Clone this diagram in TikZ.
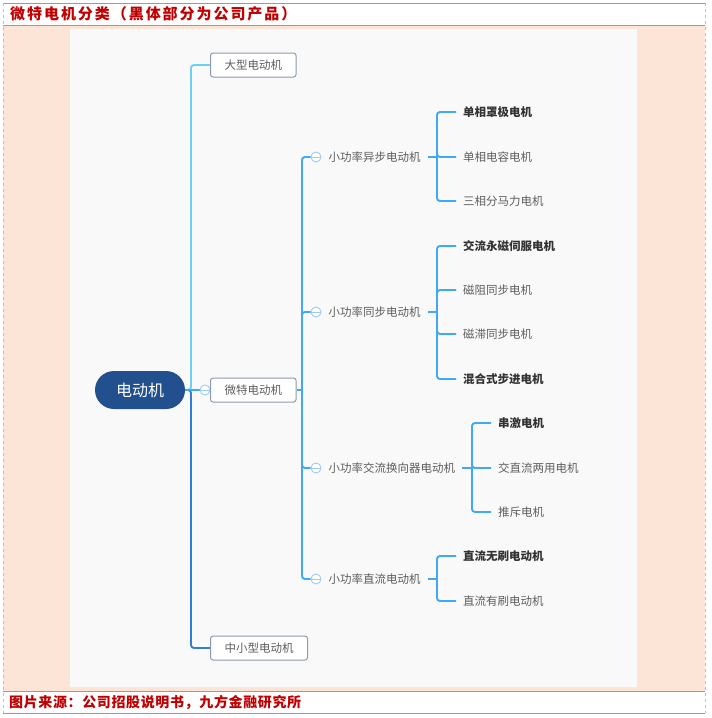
\documentclass[tikz,border=0pt]{standalone}
\usepackage{fontspec}
\setmainfont{Noto Sans CJK SC}
\newfontfamily\spacedtitle{Noto Sans CJK SC}[LetterSpace=13]
\newfontfamily\spacedsource{Noto Sans CJK SC}[LetterSpace=4.5]
\usetikzlibrary{positioning,calc}
\usepackage{xcolor}

\definecolor{peach}{HTML}{FCE4D6}
\definecolor{rule}{HTML}{E9834E}
\definecolor{titlered}{HTML}{C00000}
\definecolor{panel}{HTML}{F9F9FA}
\definecolor{rootblue}{HTML}{22508F}
\definecolor{lightline}{HTML}{6CD0F5}
\definecolor{midline}{HTML}{3FA9F5}
\definecolor{darkline}{HTML}{2E7FD6}
\definecolor{boxgray}{HTML}{8F9BAB}
\definecolor{labelgray}{HTML}{5E5E5E}
\definecolor{togglecol}{HTML}{9DCBF2}

\tikzset{
    rootnode/.style={fill=rootblue, rounded corners=19pt, minimum width=90pt, minimum height=38pt,
        text=white, font=\fontsize{16}{18}\selectfont},
    topbox/.style={draw=boxgray, fill=white, rounded corners=2.5pt, line width=1pt, minimum height=24pt,
        inner xsep=14pt, anchor=west, text=labelgray, font=\fontsize{11.5}{13}\selectfont},
    midlabel/.style={inner sep=1pt, text=labelgray, font=\fontsize{11.5}{13}\selectfont},
    leaf/.style={anchor=west, inner sep=1pt, text=labelgray, font=\fontsize{11.5}{13}\selectfont},
    leafbold/.style={leaf, text=black!80, font=\fontsize{11.5}{13}\selectfont\bfseries},
    branch/.style={midline, line width=1.9pt, rounded corners=3pt},
    toggle/.style={circle, draw=togglecol, fill=white, line width=0.9pt, minimum size=10pt, inner sep=0pt,
        path picture={\draw[togglecol, line width=0.9pt] (path picture bounding box.west) -- (path picture bounding box.east);}}
}

\begin{document}
\begin{tikzpicture}[x=1pt, y=-1pt]
    \useasboundingbox (0,0) rectangle (712,718);

    % frame, title and source rows
    \fill[peach] (3,25) rectangle (705,691);
    \fill[panel] (70,29) rectangle (637,687);
    \foreach \y in {3,25,691,713} {
        \draw[rule, line width=1pt] (3,\y) -- (705,\y);
    }
    \foreach \x in {3,705} {
        \draw[gray!50, dashed, line width=0.6pt] (\x,3) -- (\x,713);
    }
    \node[anchor=west, inner sep=0pt, text=titlered, font=\spacedtitle\fontsize{15}{18}\selectfont\bfseries] (title) at (10,14)
        {微特电机分类（黑体部分为公司产品）};
    \node[anchor=west, inner sep=0pt, text=titlered, font=\spacedsource\fontsize{14}{18}\selectfont\bfseries] (source) at (9,702)
        {图片来源：公司招股说明书，九方金融研究所};

    % root and first level
    \node[rootnode] (root) at (140,390) {电动机};
    \coordinate (trunk) at (191,390);
    \node[topbox] (large) at (210,65) {大型电动机};
    \node[topbox] (micro) at (210,390) {微特电动机};
    \node[topbox] (medium) at (210,648) {中小型电动机};

    \draw[branch, lightline] (root.east) -- (trunk) |- (large.west);
    \draw[branch, darkline] (root.east) -- (trunk) |- (medium.west);
    \draw[branch] (root.east) -- (micro.west);
    \node[toggle] (tmicro) at (205,390) {};

    % second level
    \coordinate (hub) at (302,390);
    \draw[branch] (micro.east) -- (hub);
    \foreach \n/\y in {1/157,2/312,3/468,4/579} {
        \node[toggle] (t\n) at (316,\y) {};
        \draw[branch] (hub) |- (t\n.west);
    }
    \node[midlabel, right=6pt of t1] (async) {小功率异步电动机};
    \node[midlabel, right=6pt of t2] (sync) {小功率同步电动机};
    \node[midlabel, right=6pt of t3] (commut) {小功率交流换向器电动机};
    \node[midlabel, right=6pt of t4] (dc) {小功率直流电动机};

    % third level: asynchronous
    \coordinate (b1) at (437,157);
    \node[leafbold] (a1) at (462,112) {单相罩极电机};
    \node[leaf] (a2) at (462,157) {单相电容电机};
    \node[leaf] (a3) at (462,201) {三相分马力电机};
    \draw[branch, shorten <=6pt] (async.east) -- (b1);
    \foreach \c in {a1,a2,a3} {
        \draw[branch, shorten >=6pt] (b1) |- (\c.west);
    }

    % third level: synchronous
    \coordinate (b2) at (437,312);
    \node[leafbold] (s1) at (462,246) {交流永磁伺服电机};
    \node[leaf] (s2) at (462,290) {磁阻同步电机};
    \node[leaf] (s3) at (462,334) {磁滞同步电机};
    \node[leafbold] (s4) at (462,379) {混合式步进电机};
    \draw[branch, shorten <=6pt] (sync.east) -- (b2);
    \foreach \c in {s1,s2,s3,s4} {
        \draw[branch, shorten >=6pt] (b2) |- (\c.west);
    }

    % third level: commutator
    \coordinate (b3) at (472,468);
    \node[leafbold] (c1) at (497,423) {串激电机};
    \node[leaf] (c2) at (497,468) {交直流两用电机};
    \node[leaf] (c3) at (497,512) {推斥电机};
    \draw[branch, shorten <=6pt] (commut.east) -- (b3);
    \foreach \c in {c1,c2,c3} {
        \draw[branch, shorten >=6pt] (b3) |- (\c.west);
    }

    % third level: direct current
    \coordinate (b4) at (437,579);
    \node[leafbold] (d1) at (462,556) {直流无刷电动机};
    \node[leaf] (d2) at (462,601) {直流有刷电动机};
    \draw[branch, shorten <=6pt] (dc.east) -- (b4);
    \foreach \c in {d1,d2} {
        \draw[branch, shorten >=6pt] (b4) |- (\c.west);
    }
\end{tikzpicture}
\end{document}
